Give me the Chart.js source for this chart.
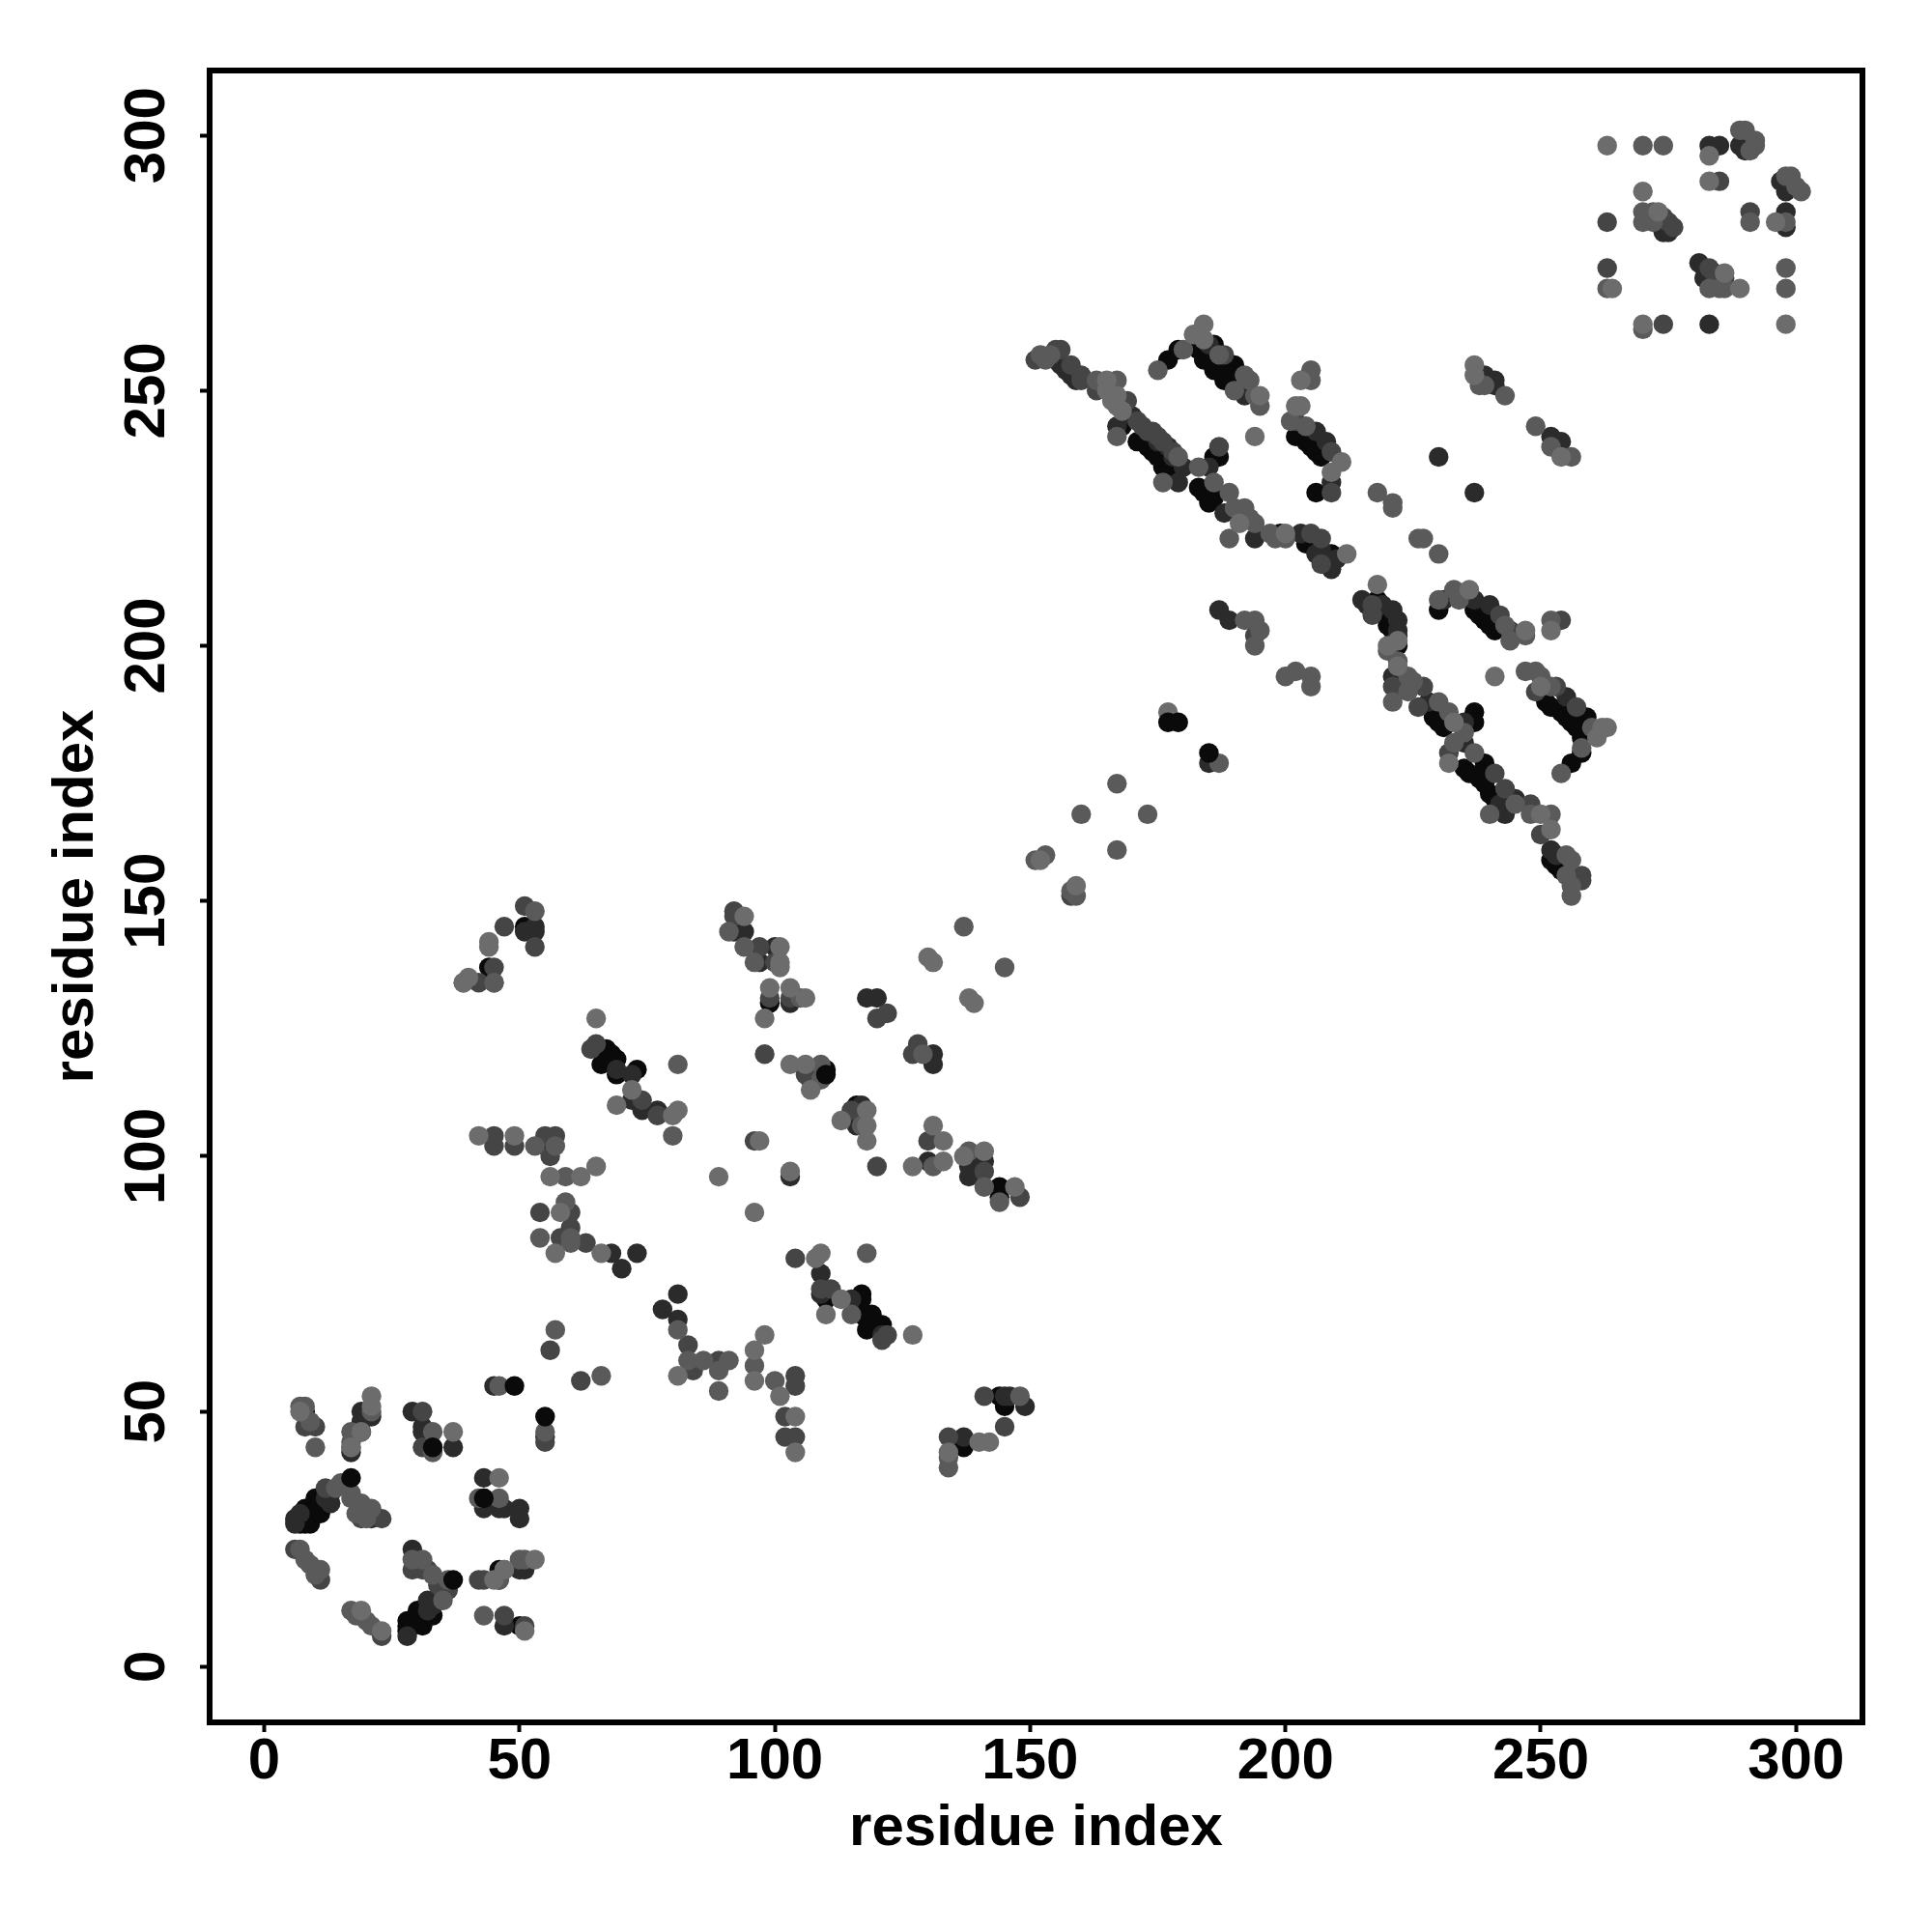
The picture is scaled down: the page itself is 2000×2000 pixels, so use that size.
<!DOCTYPE html>
<html>
<head>
<meta charset="utf-8">
<title>residue contacts</title>
<script src="https://cdn.jsdelivr.net/npm/chart.js@4/dist/chart.umd.min.js"></script>
<style>
  html, body { margin: 0; padding: 0; background: #fff; }
  canvas { display: block; }
</style>
</head>
<body>
<canvas id="contactChart" width="2000" height="2000"></canvas>
<script>
// contact pairs [residue, residue], grouped by how dark the dot is
const blackPairs = [
  [7,28],[8,28],[9,28],[8,29],[8,31],[9,30],[10,33],[10,31],[11,30],[11,32],[12,32],
  [28,9],[28,7],[28,8],[30,11],[31,8],[30,9],[29,8],[33,10],[32,11],
  [19,46],[8,50],[46,19],[50,8],[33,43],[43,33],
  [67,121],[66,118],[69,119],[69,116],[73,117],[68,120],[67,119],
  [110,72],[117,73],[117,72],[117,69],[119,69],[118,66],[121,67],[118,68],[119,67],
  [110,117],[116,110],[99,130],[44,137],[51,145],[137,43],[137,44],[144,94],[144,92],[144,53],[145,51],
  [177,256],[179,258],[183,258],[184,256],[186,254],[186,259],[190,255],[188,252],[185,257],[187,255],[189,253],
  [171,240],[174,238],[176,235],[178,234],[168,243],[173,239],[175,237],
  [186,237],[187,237],[183,231],[186,229],[184,230],[185,228],[204,220],[209,218],[199,222],
  [202,241],[205,239],[207,237],[206,230],[204,240],[206,238],
  [218,209],[220,204],[222,200],[220,206],[221,203],[219,207],[220,207],
  [229,186],[231,184],[237,187],[237,185],[239,177],[235,176],[238,174],[240,171],[236,175],[239,173],[241,170],[230,185],
  [230,207],[237,207],[239,205],[241,203],[238,206],[240,204],
  [251,189],[254,187],[256,185],[259,186],[258,182],[258,179],[252,188],[255,186],[257,184],
  [253,157],[252,158],[254,156],[256,177]
];
const darkPairs = [
  [6,28],[6,29],[7,30],[13,32],[12,33],[13,34],[21,29],[29,23],[32,13],[32,11],[33,12],[34,13],[28,6],
  [19,50],[21,49],[19,48],[17,42],[29,50],[31,47],[31,46],[37,43],[43,37],[46,31],[47,31],[50,31],[50,29],[43,31],
  [45,55],[55,45],[46,17],[50,19],[51,19],[47,8],
  [68,81],[73,81],[70,78],[81,73],[78,70],[81,68],[72,111],[74,109],[77,109],[72,116],[69,117],
  [109,77],[109,73],[115,72],[121,65],[118,131],[120,131],[131,120],[131,118],[130,99],[138,98],[138,96],[141,99],
  [55,102],[53,145],[53,144],[51,144],[92,144],[94,144],[100,141],[97,138],[103,130],[116,106],[117,110],[107,115],[103,96],
  [137,45],[145,53],[146,53],[149,51],
  [155,256],[156,255],[157,254],[158,253],[159,252],
  [170,245],[177,239],[180,235],[167,243],[185,235],[188,226],[194,221],[179,232],[187,207],[189,205],[175,240],[178,237],
  [185,259],[192,249],[206,242],[208,240],[209,232],[230,237],[237,230],
  [203,222],[206,218],[209,216],[209,215],[210,217],[207,219],[208,217],
  [215,209],[221,207],[222,205],[222,203],[222,202],[221,194],[228,189],[235,185],[235,181],[243,167],[242,169],[245,170],[219,208],[216,208],
  [231,209],[237,209],[240,208],[255,190],[239,253],[241,252],[241,251],[252,241],[254,240],
  [252,160],[253,159],[185,177],
  [283,298],[285,298],[289,298],[290,297],[297,291],[298,289],[298,285],[298,282],[274,281],[275,281],[281,275],[282,274],[282,272],[283,263]
];
const midPairs = [
  [8,47],[10,47],[23,29],[19,29],[29,19],[31,19],[32,19],[36,15],[11,17],[6,23],[31,50],[31,43],[23,6],[17,43],[42,17],[47,10],[51,8],
  [12,35],[19,31],[56,62],[62,56],[43,17],[55,44],[34,16],[35,15],
  [47,145],[51,149],[42,134],[45,134],[45,137],[53,141],[45,102],[49,102],[55,104],[57,104],[45,104],[56,100],
  [60,89],[54,89],[60,86],[58,84],[63,83],
  [65,122],[64,121],[74,111],[77,108],[92,148],[92,147],[97,141],[100,138],[99,131],[103,131],
  [98,120],[106,116],[115,109],[120,127],[122,128],[128,122],[127,120],[130,103],[120,98],[141,97],[148,92],
  [104,80],[109,74],[111,74],[121,64],[122,65],[83,63],[84,58],[89,60],[96,103],[102,49],[102,45],[104,45],[104,57],[104,55],
  [141,53],[145,47],[134,45],
  [151,256],[155,258],[156,258],[158,255],[160,253],[160,252],[163,250],[169,248],[172,243],[175,241],[174,242],[171,244],[173,242],
  [176,240],[178,238],[158,151],[188,257],[187,239],[194,202],[202,244],[209,238],[209,230],
  [205,222],[207,221],[207,216],[217,206],[224,193],[221,192],[227,192],[226,188],[232,179],[241,175],[243,172],[248,169],[250,163],[217,208],
  [242,206],[244,203],[254,205],[249,191],[253,192],[257,188],[258,155],[258,154],[263,283],
  [263,274],[274,284],[275,283],[276,282],[283,274],[284,273],[286,272],[291,285],[285,291],[274,263]
];
const greyPairs = [
  [7,51],[8,51],[9,48],[10,43],[21,50],[17,44],[17,46],[33,46],[33,42],[46,33],[42,33],[43,10],[47,19],[46,17],[50,21],[51,21],
  [14,35],[15,36],[17,33],[17,34],[19,32],[18,30],[21,31],[20,29],
  [7,23],[8,21],[9,20],[10,18],[11,19],[31,21],[29,21],[33,18],[36,17],[35,13],[17,11],[20,9],[21,8],[18,10],
  [46,55],[55,46],[57,66],[66,57],[53,148],[39,134],[45,134],[53,102],[57,102],[59,96],[59,91],
  [54,84],[60,84],[60,83],[94,141],[91,144],[96,138],[105,131],[109,118],[109,115],[81,118],[80,104],
  [129,120],[131,98],[138,101],[141,94],[144,91],[118,81],[115,69],[96,59],[100,56],[81,66],[83,60],[86,60],[91,60],[89,58],[89,54],
  [134,41],[134,39],[148,53],[117,106],
  [152,257],[153,256],[154,257],[163,252],[167,252],[167,241],[176,232],[137,145],[145,137],[158,152],[167,173],[160,167],[173,167],[167,160],[151,158],[153,159],[159,151],
  [175,254],[180,258],[187,257],[190,250],[192,253],[193,252],[194,249],[195,247],[205,254],[205,252],[201,244],[204,243],
  [179,237],[183,235],[186,232],[189,230],[192,227],[190,227],[194,224],[193,225],[189,221],[197,222],[198,221],[200,221],
  [192,205],[194,205],[195,203],[194,200],[200,194],[202,195],[205,194],[205,192],[187,177],
  [218,230],[221,228],[221,227],[226,221],[227,221],[230,218],
  [220,199],[222,197],[224,194],[224,191],[221,189],[225,193],[230,189],[232,187],[235,183],[233,181],[237,179],[245,169],[240,167],[248,167],[252,167],
  [230,209],[233,211],[234,209],[243,204],[244,201],[247,202],[252,205],[247,195],[249,195],[250,194],[252,192],[260,184],
  [254,175],[258,180],[243,249],[239,251],[238,251],[249,243],[252,239],[256,237],
  [255,159],[256,158],[255,155],[256,153],[256,151],
  [270,298],[274,298],[289,301],[290,301],[291,297],[292,298],[292,299],[298,292],[299,292],[300,290],[301,289],
  [270,285],[272,285],[270,283],[272,283],[291,283],[298,283],[283,270],[285,270],[286,270],[263,270],[298,274],[298,270],[270,262]
];
const lightPairs = [
  [7,50],[21,53],[21,51],[19,46],[17,43],[37,46],[46,37],[23,7],[19,11],[51,7],[53,21],[45,17],[47,19],
  [44,142],[44,141],[40,135],[39,134],[42,104],[49,104],[56,96],[62,96],[65,98],[58,89],[57,81],[66,81],
  [65,127],[72,113],[69,110],[81,109],[80,108],[94,147],[99,133],[98,127],[103,133],[106,131],[101,141],[101,137],[101,138],
  [103,118],[106,118],[107,113],[113,107],[118,109],[118,106],[118,103],[130,139],[131,138],[138,131],[139,130],
  [131,106],[133,103],[127,98],[133,99],[137,100],[141,101],[147,94],
  [97,103],[89,96],[103,97],[96,89],[109,81],[108,80],[113,72],[110,69],[127,65],[81,57],[98,65],[96,62],[96,56],[101,53],[104,49],[104,42],[134,42],[140,44],[142,44],
  [165,252],[165,250],[167,249],[166,248],[167,247],[168,246],[152,158],[159,153],
  [182,261],[184,263],[184,260],[194,241],[195,249],[203,252],[203,247],[202,247],[211,236],[209,234],
  [191,224],[200,222],[212,218],[218,212],[222,201],[222,196],[220,200],[233,185],[232,177],[250,167],
  [252,164],[241,194],[236,211],[247,203],[252,203],[250,192],[262,184],[263,184],[261,182],
  [237,255],[237,253],[254,237],[263,298],[283,296],[283,291],[270,289],[273,285],[296,283],[286,273],[289,270],
  [264,270],[270,263],[298,263],[177,187]
];
// these black dots sit on top of everything else in the picture
const topBlackPairs = [
  [17,37],[37,17],[49,55],[55,49],[43,33],[33,43],[177,185],[179,185],[185,179],[110,116]
];
const tickValues = [0, 50, 100, 150, 200, 250, 300];
const axisTitle = 'residue index';

const shades = {
  black: '#0a0a0a', dark: '#2b2b2b', mid: '#454545', grey: '#5a5a5a', light: '#6c6c6c'
};

function makeDataset(pairs, colour, drawOrder) {
  return {
    data: pairs.map(p => ({ x: p[0], y: p[1] })),
    backgroundColor: colour,
    borderWidth: 0,
    pointRadius: 10.2,
    pointHoverRadius: 10.2,
    order: drawOrder
  };
}

const boxPlugin = {
  id: 'boxPlugin',
  afterDatasetsDraw(chart) {
    const a = chart.chartArea;
    const ctx = chart.ctx;
    ctx.save();
    ctx.strokeStyle = '#000';
    ctx.lineWidth = 6;
    ctx.strokeRect(a.left, a.top, a.right - a.left, a.bottom - a.top);
    ctx.restore();
  }
};

const tickFont = { family: 'Liberation Sans', size: 60, weight: 'bold' };

new Chart(document.getElementById('contactChart'), {
  type: 'scatter',
  data: {
    datasets: [
      makeDataset(topBlackPairs, shades.black, 0),
      makeDataset(lightPairs, shades.light, 1),
      makeDataset(greyPairs, shades.grey, 2),
      makeDataset(midPairs, shades.mid, 3),
      makeDataset(darkPairs, shades.dark, 4),
      makeDataset(blackPairs, shades.black, 5)
    ]
  },
  options: {
    responsive: false,
    animation: false,
    devicePixelRatio: 1,
    layout: { padding: { top: 73, right: 72, left: 0, bottom: 0 } },
    plugins: { legend: { display: false }, tooltip: { enabled: false } },
    scales: {
      x: {
        type: 'linear',
        min: -10.7,
        max: 313,
        afterBuildTicks(scale) { scale.ticks = tickValues.map(v => ({ value: v })); },
        afterFit(scale) { scale.height = 217; },
        border: { display: false },
        grid: { drawOnChartArea: false, tickLength: 10, tickWidth: 4, tickColor: '#000' },
        ticks: { color: '#000', font: tickFont, padding: -5, autoSkip: false, maxRotation: 0 },
        title: {
          display: true, text: axisTitle, color: '#000', font: tickFont,
          padding: { top: 0, bottom: 71 }
        }
      },
      y: {
        type: 'linear',
        min: -10.9,
        max: 312.7,
        afterBuildTicks(scale) { scale.ticks = tickValues.map(v => ({ value: v })); },
        afterFit(scale) { scale.width = 217; },
        border: { display: false },
        grid: { drawOnChartArea: false, tickLength: 10, tickWidth: 4, tickColor: '#000' },
        ticks: {
          color: '#000', font: tickFont, padding: 3, autoSkip: false,
          minRotation: 90, maxRotation: 90, crossAlign: 'center'
        },
        title: {
          display: true, text: axisTitle, color: '#000', font: tickFont,
          padding: { top: 43, bottom: 0 }
        }
      }
    }
  },
  plugins: [boxPlugin]
});
</script>
</body>
</html>
